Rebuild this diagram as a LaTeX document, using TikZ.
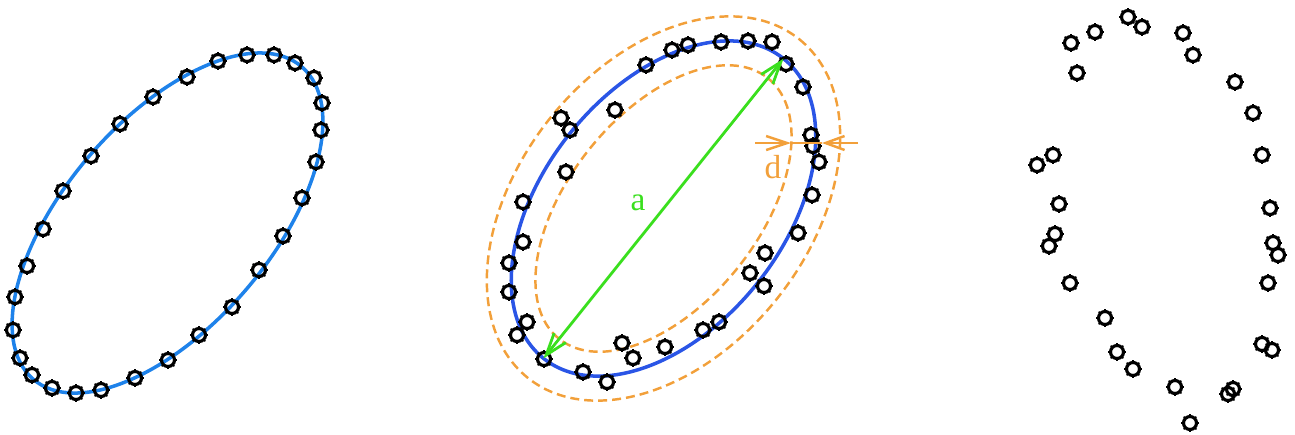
\documentclass[tikz,border=0pt]{standalone}
\usepackage{fontspec}
\setmainfont{Liberation Serif}
\usepackage{tikz}
\usetikzlibrary{arrows.meta}
\definecolor{fitblue}{HTML}{1E82EA}
\definecolor{ringblue}{HTML}{2A55E6}
\definecolor{bandorange}{HTML}{F2A03A}
\definecolor{axisgreen}{HTML}{3ADF1E}

\begin{document}
\begin{tikzpicture}[
  x=0.02cm, y=-0.02cm,
  curve/.style={line width=2pt},
  band/.style={draw=bandorange, line width=1.4pt, dash pattern=on 0.18cm off 0.1cm},
  axis/.style={draw=axisgreen, line width=1.6pt, {Straight Barb[length=0.44cm,width=0.3cm]}-{Straight Barb[length=0.44cm,width=0.3cm]}},
  dim/.style={draw=bandorange, line width=1.4pt},
  lbl/.style={font=\fontsize{19}{20}\selectfont, inner sep=0pt},
  mk/.pic={
    \draw[line width=1.8pt] (0,0) circle (0.13cm);
    \foreach \t in {0,45,...,315}
      \draw[line width=0.9pt] (\t:0.13cm) -- (\t:0.18cm);
  }
]
\useasboundingbox (0,0) rectangle (1295,434);

% ── Fitted ellipse ────────────────────────────────────────────
\draw[curve, fitblue, rotate around={49.3:(167.5,223)}] (167.5,223) ellipse [x radius=206, y radius=103];
\foreach \px/\py in {247/55, 274/55, 295/63, 314/78, 322/103, 321/130, 316/162, 302/198,
                     283/236, 259/270, 232/307, 199/335, 168/360, 135/378, 101/390, 76/393,
                     52/388, 32/375, 20/358, 13/330, 15/297, 27/266, 43/229, 63/191,
                     91/156, 120/124, 153/97, 187/77, 218/61}
  \pic at (\px,\py) {mk};

% ── Noisy ring with band ──────────────────────────────────────
\draw[band, rotate around={51.3:(663.5,208.5)}] (663.5,208.5) ellipse [x radius=217, y radius=145];
\draw[band, rotate around={51.3:(663.5,208.5)}] (663.5,208.5) ellipse [x radius=167, y radius=95];
\draw[curve, ringblue, rotate around={51.3:(663.5,208.5)}] (663.5,208.5) ellipse [x radius=192, y radius=120];
\foreach \px/\py in {646/65, 672/50, 688/45, 721/42, 748/41, 772/42, 786/64, 803/87,
                     811/135, 813/146, 819/162, 812/195, 798/233, 765/253, 750/273, 764/286,
                     719/322, 703/330, 665/347, 622/343, 633/358, 607/382, 583/372, 544/359,
                     517/335, 527/322, 509/292, 509/263, 523/242, 523/202, 566/172, 561/118,
                     570/130, 615/110}
  \pic at (\px,\py) {mk};

\coordinate (alo) at (543.5,358.4);
\coordinate (ahi) at (783.5,58.6);
\draw[axis] (alo) -- (ahi);
\node[lbl, text=axisgreen] (alab) at (638,203) {a};

\coordinate (dl) at (755,143);
\coordinate (din) at (791,143);
\coordinate (dout) at (822,143);
\coordinate (dr) at (858,143);
\draw[dim, -{Straight Barb[length=0.42cm,width=0.28cm]}] (dl) -- (din);
\draw[dim] (din) -- (dout);
\draw[dim, -{Straight Barb[length=0.38cm,width=0.28cm]}] (dr) -- (dout);
\node[lbl, text=bandorange] (dlab) at (773,167) {d};

% ── Scattered points ──────────────────────────────────────────
\foreach \px/\py in {1128/17, 1142/27, 1095/32, 1071/43, 1183/33, 1193/55, 1077/73, 1235/82,
                     1253/113, 1262/155, 1053/155, 1037/165, 1059/204, 1270/208, 1055/234, 1049/246,
                     1273/243, 1278/255, 1070/283, 1268/283, 1105/318, 1117/352, 1133/369, 1262/344,
                     1272/350, 1175/387, 1233/389, 1228/394, 1190/423}
  \pic at (\px,\py) {mk};
\end{tikzpicture}
\end{document}
